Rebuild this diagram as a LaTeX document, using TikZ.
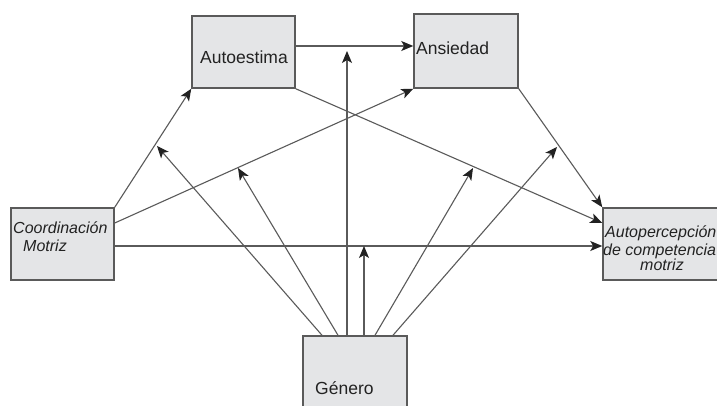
\documentclass[tikz,border=0pt]{standalone}
\usepackage{fontspec}
\setmainfont{Liberation Sans}
\usetikzlibrary{arrows.meta,calc}
\definecolor{boxfill}{HTML}{E4E5E7}
\definecolor{edge}{HTML}{5A5A5A}
\definecolor{ink}{HTML}{222222}
\begin{document}
\begin{tikzpicture}[x=1pt,y=1pt,
  box/.style={draw=edge, line width=1.5pt, fill=boxfill, inner sep=0pt},
  lbl/.style={anchor=base west, inner sep=0pt, text=ink, font=\fontsize{17.5}{20}\selectfont},
  ilbl/.style={anchor=base west, inner sep=0pt, text=ink, font=\fontsize{16}{19}\selectfont\itshape},
  conn/.style={draw=edge, line width=1.1pt, -{Stealth[length=12pt,width=10pt,inset=3pt,color=ink]}}]
\useasboundingbox (0,0) rectangle (717,405);
\clip (0,0) rectangle (717,405);
\fill[white] (0,0) rectangle (717,405);
% boxes
\node[box, minimum width=103pt, minimum height=72pt] (auto) at (243.5,353) {};
\node[box, minimum width=104pt, minimum height=74pt] (ans) at (466,354) {};
\node[box, minimum width=103pt, minimum height=72pt] (coord) at (62.5,161) {};
\node[box, minimum width=122pt, minimum height=72pt] (autop) at (664,161) {};
\node[box, minimum width=104pt, minimum height=74pt] (gen) at (355,32) {};
% labels
\node[lbl] (tauto) at (200,341) {Autoestima};
\node[lbl] (tans) at (416,350) {Ansiedad};
\node[ilbl] (tcoord1) at (13,172) {Coordinación};
\node[ilbl] (tcoord2) at (23,154) {Motriz};
\node[ilbl] (tautop1) at (605,168) {Autopercepción};
\node[ilbl] (tautop2) at (603,150) {de competencia};
\node[ilbl] (tautop3) at (640,135) {motriz};
\node[lbl] (tgen) at (315,11) {Género};
% connectors
\coordinate (s1) at ([yshift=6pt]auto.east);
\draw[conn] (s1) -- (s1 -| ans.west);
\coordinate (g1) at ([xshift=-8pt]gen.north);
\coordinate (t1) at ([yshift=-5pt]g1 |- s1);
\draw[conn] (g1) -- (t1);
\draw[conn] (coord.north east) -- (auto.south west);
\draw[conn] ([yshift=21pt]coord.east) -- (ans.south west);
\coordinate (s5) at ([yshift=-2pt]coord.east);
\draw[conn] (s5) -- (s5 -| autop.west);
\coordinate (g6) at ([xshift=9pt]gen.north);
\draw[conn] (g6) -- (g6 |- s5);
\draw[conn] (auto.south east) -- ([yshift=21pt]autop.west);
\draw[conn] (ans.south east) -- (autop.north west);
\coordinate (t9) at (157,259);
\coordinate (t10) at (238,237);
\coordinate (t11) at (473,237);
\coordinate (t12) at (557,258);
\draw[conn] ([xshift=-33pt]gen.north) -- (t9);
\draw[conn] ([xshift=-17pt]gen.north) -- (t10);
\draw[conn] ([xshift=20pt]gen.north) -- (t11);
\draw[conn] ([xshift=38pt]gen.north) -- (t12);
\end{tikzpicture}
\end{document}
